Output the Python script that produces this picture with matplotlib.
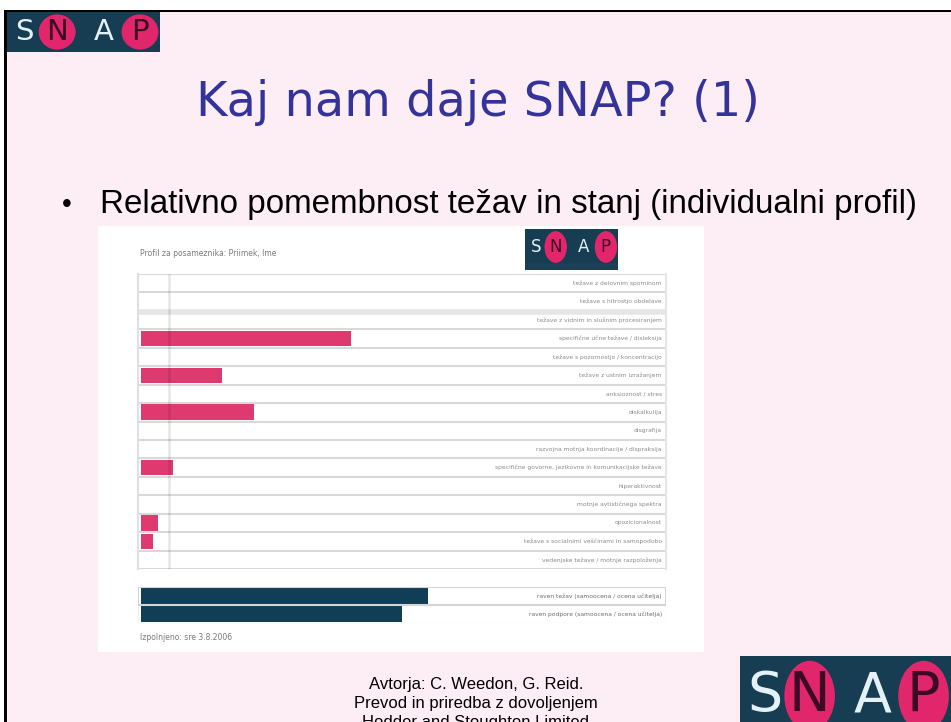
import matplotlib
matplotlib.use('Agg')
import matplotlib.pyplot as plt
from matplotlib.patches import Rectangle, Ellipse
import matplotlib.transforms as mtransforms
from matplotlib import font_manager

# ---------------- data ----------------
categories = [
    "težave z delovnim spominom",
    "težave s hitrostjo obdelave",
    "težave z vidnim in slušnim procesiranjem",
    "specifične učne težave / disleksija",
    "težave s pozornostjo / koncentracijo",
    "težave z ustnim izražanjem",
    "anksioznost / stres",
    "diskalkulija",
    "disgrafija",
    "razvojna motnja koordinacije / dispraksija",
    "specifične govorne, jezikovne in komunikacijske težave",
    "hiperaktivnost",
    "motnje avtističnega spektra",
    "opozicionalnost",
    "težave s socialnimi veščinami in samopodobo",
    "vedenjske težave / motnje razpoloženja",
]
values = [0, 0, 0, 40.0, 0, 15.5, 0, 21.5, 0, 0, 6.2, 0, 0, 3.3, 2.4, 0]
threshold = 5.4

summary_labels = [
    "raven težav (samoocena / ocena učitelja)",
    "raven podpore (samoocena / ocena učitelja)",
]
summary_values = [54.7, 49.7]

slide_title = "Kaj nam daje SNAP? (1)"
bullet_text = "Relativno pomembnost težav in stanj (individualni profil)"
chart_header = "Profil za posameznika: Priimek, Ime"
chart_footer = "Izpolnjeno: sre 3.8.2006"
footer_lines = ["Avtorja: C. Weedon, G. Reid.",
                "Prevod in priredba z dovoljenjem",
                "Hodder and Stoughton Limited"]

# ---------------- styles ----------------
W, H = 951, 722
PINK_BG = '#fdeef5'
BAR_PINK = '#df3a70'
BAR_DARK = '#0f3e56'
GRID = '#d9d9d9'
LOGO_BG = '#163d52'
LOGO_PINK = '#e2266b'

installed = {f.name for f in font_manager.fontManager.ttflist}
if 'Liberation Sans Narrow' in installed:
    FOOT_FAM, FOOT_FS = 'Liberation Sans Narrow', 14.5
else:
    FOOT_FAM, FOOT_FS = 'Liberation Sans', 12

fig = plt.figure(figsize=(W / 100, H / 100), dpi=100)
fig.patch.set_facecolor('white')

bg = fig.add_axes([0, 0, 1, 1])
bg.set_xlim(0, W)
bg.set_ylim(H, 0)
bg.axis('off')

# slide background and border
bg.add_patch(Rectangle((5, 11), W - 5, H - 11, fc=PINK_BG, ec='none'))
bg.add_patch(Rectangle((4, 10), W - 4, 2, fc='black', ec='none'))
bg.add_patch(Rectangle((4, 10), 2.5, H - 10, fc='black', ec='none'))


def draw_logo(ax, x0, y0, w, h, fs):
    ax.add_patch(Rectangle((x0, y0), w, h, fc=LOGO_BG, ec='none', zorder=2))
    cy = y0 + h * 0.5
    for rel, ch, circ in [(0.117, 'S', False), (0.33, 'N', True),
                          (0.63, 'A', False), (0.87, 'P', True)]:
        cx = x0 + rel * w
        if circ:
            ax.add_patch(Ellipse((cx, cy), w * 0.24, h * 0.88, fc=LOGO_PINK,
                                 ec='none', zorder=3))
            col = '#3b0a24'
        else:
            col = '#e4f2f7'
        ax.text(cx, cy, ch, ha='center', va='center', fontsize=fs, color=col,
                family='DejaVu Sans', zorder=4)


draw_logo(bg, 6.5, 12, 153.5, 40, 21)
bg.add_patch(Rectangle((740, 656), 211, 66, fc=LOGO_BG, ec='none'))
draw_logo(bg, 740, 656, 211, 80, 40)

# title and bullet
bg.text(478, 103, slide_title, ha='center', va='center', color='#333399',
        fontsize=34.5, family='DejaVu Sans')
bg.text(62, 205, "•", ha='left', va='center', fontsize=20, color='black',
        family='Liberation Sans')
bg.text(100, 205, bullet_text, ha='left', va='center', fontsize=23.9,
        color='black', family='Liberation Sans')

# footer (last line is partly cut by the slide edge, as in the original)
for i, line in enumerate(footer_lines):
    bg.text(476, 684 + i * 19.5, line, ha='center', va='center',
            fontsize=FOOT_FS, color='black', family=FOOT_FAM)

# chart panel (white image)
bg.add_patch(Rectangle((98, 226), 606, 426, fc='white', ec='none'))
bg.text(140, 254, chart_header, ha='left', va='center', fontsize=5.5,
        color='#7a7a7a')
bg.text(140, 637, chart_footer, ha='left', va='center', fontsize=5.5,
        color='#7a7a7a')
draw_logo(bg, 525, 229, 93, 36, 12)
bg.add_patch(Rectangle((525, 263), 93, 7, fc='#1c3f55', ec='none', zorder=5))


def fig_box(x0, y0, x1, y1):
    return [x0 / W, 1 - y1 / H, (x1 - x0) / W, (y1 - y0) / H]


# main profile chart
ax = fig.add_axes(fig_box(138, 274, 666, 569))
ax.set_facecolor('white')
n = len(categories)
ypos = list(range(n))
ax.barh(ypos, values, height=0.85, color=BAR_PINK, left=0, zorder=2)
ax.set_xlim(-0.5, 100)
ax.set_ylim(n - 0.5, -0.5)
for i in range(n + 1):
    ax.axhline(i - 0.5, color=GRID, lw=1.5, zorder=1)
ax.axhline(1.58, color='#e6e6e6', lw=4, zorder=1)
ax.axvline(threshold, color='black', alpha=0.09, lw=2, zorder=3)
trans = mtransforms.blended_transform_factory(ax.transAxes, ax.transData)
for i, lab in enumerate(categories):
    ax.text(0.992, i, lab, transform=trans, ha='right', va='center',
            fontsize=4.3, color='#8a8a8a')
ax.set_xticks([])
ax.set_yticks([])
for s in ['top', 'bottom']:
    ax.spines[s].set_visible(False)
ax.spines['left'].set_color('#e0e0e0')
ax.spines['left'].set_linewidth(1.5)
ax.spines['right'].set_color('#e6e6e6')
ax.spines['right'].set_linewidth(1.5)

# summary bars
ax2 = fig.add_axes(fig_box(138, 587, 666, 623))
ax2.set_facecolor('none')
ax2.barh([0, 1], summary_values, height=0.85, color=BAR_DARK, left=0, zorder=2)
ax2.set_xlim(-0.5, 100)
ax2.set_ylim(1.5, -0.5)
ax2.add_patch(Rectangle((-0.5, -0.5), 100.5, 1.0, fill=False, ec='#d5d5d5',
                        lw=1.5, zorder=3))
ax2.add_patch(Rectangle((-0.5, 0.5), 100.5, 1.0, fill=False, ec='#f0f0f0',
                        lw=1.0, zorder=1))
trans2 = mtransforms.blended_transform_factory(ax2.transAxes, ax2.transData)
for i, lab in enumerate(summary_labels):
    ax2.text(0.992, i, lab, transform=trans2, ha='right', va='center',
             fontsize=4.3, color='#6a6a6a')
ax2.set_xticks([])
ax2.set_yticks([])
for s in ax2.spines.values():
    s.set_visible(False)

fig.savefig('out.png', dpi=100, facecolor=fig.get_facecolor())
